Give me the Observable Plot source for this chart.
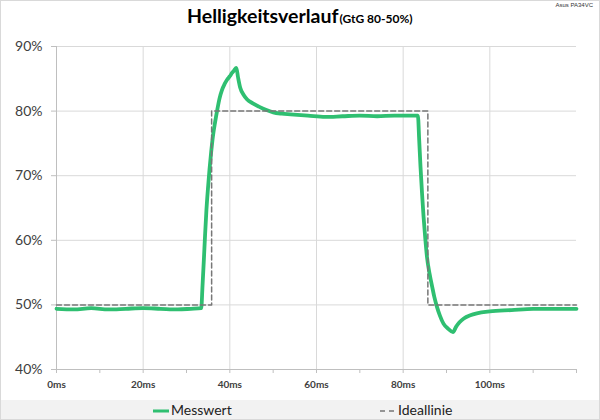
<!DOCTYPE html>
<html><head><meta charset="utf-8">
<script src="https://cdn.jsdelivr.net/npm/d3@7"></script>
<script src="https://cdn.jsdelivr.net/npm/@observablehq/plot@0.6"></script>
<style>
body{margin:0;background:#fff;}
#wrap{position:relative;width:600px;height:420px;overflow:hidden;font-family:Lato,"Open Sans",sans-serif;color:#000;box-shadow:inset 0 0 0 1px #d9d9d9;}
#chart{position:absolute;left:0;top:0;}
#title{position:absolute;left:187px;top:4px;white-space:nowrap;font-weight:bold;}
#title .main{font-size:19.5px;}
#title .sub{font-size:12px;margin-left:1px;}
#model{position:absolute;right:7px;top:2px;font-size:6px;color:#333;font-family:"Liberation Sans",sans-serif;}
#legend{position:absolute;left:1px;top:400px;width:598px;height:19px;background:#f2f2f2;font-size:14px;color:#222;}
.item{position:absolute;top:0;height:19px;line-height:19px;white-space:nowrap;}
.item svg{vertical-align:middle;margin-right:2px;}
</style></head><body>
<div id="wrap">
  <div id="chart"></div>
  <div id="title"><span class="main">Helligkeitsverlauf</span><span class="sub">(GtG 80-50%)</span></div>
  <div id="model">Asus PA34VC</div>
  <div id="legend">
    <div class="item" style="left:152px"><svg width="16" height="6"><line x1="0" x2="16" y1="3" y2="3" stroke="#2fbf71" stroke-width="3"/></svg>Messwert</div>
    <div class="item" style="left:379px"><svg width="16" height="6"><line x1="0" x2="16" y1="3" y2="3" stroke="#777" stroke-width="1.5" stroke-dasharray="5,4"/></svg>Ideallinie</div>
  </div>
</div>
<script>
const timeMs = [0, 4, 8, 12, 16, 20, 24, 28, 31, 33.4, 33.7, 34.0, 34.3, 34.6, 34.95, 35.3, 35.7, 36.1, 36.6, 37.1, 37.6, 38.2, 38.8, 39.4, 40.0, 40.5, 41.0, 41.5, 41.9, 42.4, 43.2, 44.0, 45.3, 46.7, 48.3, 50, 52, 54, 58, 62, 66, 70, 74, 78, 81, 83.4, 83.7, 84.0, 84.35, 84.7, 85.1, 85.5, 86.1, 86.7, 87.2, 87.8, 88.5, 89.3, 90.4, 91.5, 92.2, 93.0, 94.0, 95.5, 97, 100, 105, 110, 115, 120];
const messwert = [49.4, 49.3, 49.5, 49.3, 49.4, 49.5, 49.4, 49.3, 49.4, 49.5, 53.0, 56.9, 61.0, 64.7, 68.0, 70.9, 73.7, 76.1, 78.3, 80.2, 81.9, 83.3, 84.2, 84.9, 85.4, 85.9, 86.3, 86.7, 85.2, 83.6, 82.5, 81.8, 81.2, 80.7, 80.2, 79.8, 79.6, 79.5, 79.3, 79.1, 79.2, 79.3, 79.2, 79.3, 79.3, 79.3, 75.5, 71.4, 67.3, 63.7, 60.3, 57.4, 54.8, 52.8, 51.2, 49.7, 48.3, 47.1, 46.3, 45.8, 46.6, 47.3, 47.9, 48.4, 48.7, 49.0, 49.2, 49.4, 49.4, 49.4];
const idealTime = [0, 35.8, 35.8, 85.7, 85.7, 120];
const idealValue = [50, 50, 80, 80, 50, 50];
const xTicks = [0, 20, 40, 60, 80, 100];
const xMinorTicks = [0, 10, 20, 30, 40, 50, 60, 70, 80, 90, 100, 110, 120];
const yTicks = [40, 50, 60, 70, 80, 90];

const green = "#2fbf71";
const plot = Plot.plot({
  width: 600, height: 400,
  marginTop: 46, marginBottom: 31, marginLeft: 56, marginRight: 24,
  style: {background: "transparent", fontFamily: "Lato, 'Open Sans', sans-serif"},
  x: {domain: [0, 120], axis: null},
  y: {domain: [40, 90], axis: null},
  marks: [
    Plot.ruleY(yTicks.slice(1), {stroke: "#d9d9d9", strokeWidth: 1}),
    Plot.ruleX(xTicks.slice(1), {stroke: "#d9d9d9", strokeWidth: 1}),
    Plot.axisX({ticks: xMinorTicks, tickSize: 4, tickFormat: () => "", stroke: "#bfbfbf", strokeOpacity: 1}),
    Plot.axisY({ticks: yTicks, tickSize: 5, tickFormat: () => "", stroke: "#bfbfbf", strokeOpacity: 1}),
    Plot.ruleY([40], {stroke: "#bfbfbf"}),
    Plot.ruleX([0], {stroke: "#bfbfbf"}),
    Plot.text(xTicks, {x: d => d, y: 40, text: d => d + "ms", dy: 15, fontWeight: "bold", fontSize: 10, fill: "#404040"}),
    Plot.text(yTicks, {x: 0, y: d => d, text: d => d + "%", textAnchor: "end", dx: -14, fontSize: 14, fill: "#404040"}),
    Plot.line(d3.range(timeMs.length), {x: i => timeMs[i], y: i => messwert[i], stroke: green, strokeWidth: 3.8, strokeLinejoin: "round", strokeLinecap: "round", curve: "monotone-x"}),
    Plot.line(d3.range(idealTime.length), {x: i => idealTime[i], y: i => idealValue[i], stroke: "#777", strokeWidth: 1.5, strokeDasharray: "5,3"})
  ]
});
document.getElementById("chart").appendChild(plot);
</script>
</body></html>
